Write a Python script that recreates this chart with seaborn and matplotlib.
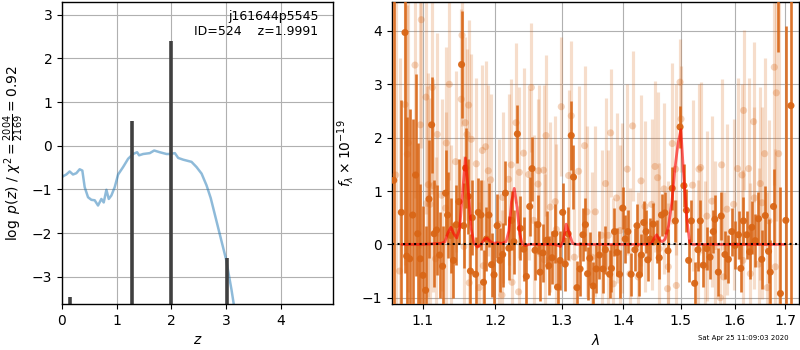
import matplotlib
matplotlib.use("Agg")
import matplotlib.pyplot as plt
from matplotlib.ticker import FixedLocator, FixedFormatter, NullLocator
import seaborn as sns
import numpy as np
import pandas as pd

# ---------------- left panel: log p(z) ----------------
pz_z = [0.0, 0.018, 0.079, 0.14, 0.201, 0.262, 0.323, 0.372, 0.415, 0.476, 0.537, 0.598,
        0.659, 0.72, 0.763, 0.812, 0.855, 0.903, 0.964, 1.026, 1.117, 1.209, 1.30, 1.374,
        1.41, 1.484, 1.606, 1.686, 1.789, 1.911, 1.972, 2.064, 2.125, 2.216, 2.369, 2.461,
        2.553, 2.644, 2.72, 2.80, 2.90, 3.00, 3.10, 3.20, 3.40]
pz_logp = [-0.72, -0.70, -0.66, -0.59, -0.66, -0.63, -0.54, -0.57, -0.95, -1.18, -1.24, -1.25,
           -1.37, -1.22, -1.30, -1.01, -1.22, -1.14, -0.95, -0.66, -0.49, -0.30, -0.19, -0.15,
           -0.22, -0.19, -0.17, -0.11, -0.15, -0.19, -0.19, -0.17, -0.28, -0.32, -0.37, -0.49,
           -0.64, -0.91, -1.20, -1.60, -2.10, -2.60, -3.30, -4.10, -5.50]
peak_z = [0.153, 1.275, 1.990, 3.025]
peak_logp = [-3.46, 0.56, 2.39, -2.58]

# ---------------- right panel: spectrum ----------------
dark_wave = [1.0625, 1.0722, 1.0770, 1.0791, 1.0830, 1.0870, 1.0908, 1.0935, 1.0970, 1.1005,
             1.1040, 1.1085, 1.1120, 1.1153, 1.1186, 1.1228, 1.1267, 1.1308, 1.1335, 1.1376,
             1.1415, 1.1454, 1.1490, 1.1527, 1.1555, 1.1583, 1.1620, 1.1650, 1.1676, 1.1723,
             1.1761, 1.1799, 1.1835, 1.1875, 1.1912, 1.1949, 1.1985, 1.2030, 1.2070, 1.2110,
             1.2150, 1.2200, 1.2240, 1.2275, 1.2326, 1.2370, 1.2420, 1.2460, 1.2510, 1.2545,
             1.2590, 1.2635, 1.2665, 1.2710, 1.2770, 1.2800, 1.2850, 1.2895, 1.2935, 1.2975,
             1.3015, 1.3055, 1.3100, 1.3150, 1.3185, 1.3240, 1.3290, 1.3335, 1.3375, 1.3410,
             1.3445, 1.3500, 1.3550, 1.3600, 1.3660, 1.3700, 1.3770, 1.3800, 1.3850, 1.3895,
             1.3935, 1.3990, 1.4030, 1.4075, 1.4130, 1.4195, 1.4230, 1.4270, 1.4305, 1.4345,
             1.4385, 1.4415, 1.4455, 1.4510, 1.4570, 1.4615, 1.4655, 1.4715, 1.4770, 1.4845,
             1.4900, 1.4985, 1.5055, 1.5100, 1.5140, 1.5190, 1.5250, 1.5310, 1.5354, 1.5410,
             1.5475, 1.5535, 1.5595, 1.5625, 1.5690, 1.5745, 1.5815, 1.5880, 1.5945, 1.6010,
             1.6075, 1.6120, 1.6170, 1.6235, 1.6290, 1.6335, 1.6400, 1.6465, 1.6530, 1.6600,
             1.6665, 1.6700, 1.6765, 1.6860, 1.6905, 1.7015, 1.7120]
dark_flux = [1.20, 0.60, 3.97, -0.22, -0.27, 0.55, 1.30, 0.20, -0.27, -0.58,
             -0.86, 0.85, 2.24, 0.20, 0.27, -0.20, -0.41, 0.96, 0.55, 0.17,
             -0.30, 0.37, 0.80, 3.37, 0.35, 1.43, 0.90, -0.50, 0.50, -0.56,
             0.60, 0.55, -0.71, 0.10, 0.55, -0.38, -0.57, 0.35, -0.30, -0.19,
             0.96, -0.07, 0.45, 0.05, 2.07, 0.30, -0.09, -0.60, 0.71, 1.42,
             -0.11, 0.37, -0.52, -0.16, 0.08, -0.40, -0.25, 0.20, -0.80, -0.30,
             0.60, -0.37, 0.20, 2.04, 1.26, -0.81, -0.46, 0.18, 0.37, -0.55,
             -0.26, -0.78, -0.46, -0.20, -0.46, -0.10, -0.56, -0.45, 0.24, -0.15,
             -0.56, 0.68, 0.10, 0.24, -0.56, -0.10, 0.35, -0.57, -0.20, 0.41,
             0.24, -0.29, 0.10, 0.38, 0.05, -0.25, 0.55, 0.59, -0.12, 1.05,
             0.44, 2.20, 1.10, 0.64, -0.30, 0.44, -0.73, -0.10, 0.44, -0.39,
             -0.08, -0.24, 0.24, 0.47, -0.52, 0.53, -0.19, -0.28, 0.24, -0.02,
             0.18, -0.45, 0.44, 0.18, -0.14, 0.32, 0.07, 0.48, -0.28, 0.54,
             -0.13, -0.52, 0.71, 6.00, -0.92, 0.45, 2.60]
dark_err = [6.0, 2.1, 4.5, 2.6, 2.8, 1.8, 1.9, 1.7, 1.4, 1.3,
            1.2, 1.1, 0.9, 1.0, 0.85, 0.8, 0.75, 0.8, 0.8, 0.7,
            0.7, 0.75, 0.8, 1.0, 0.8, 0.75, 0.7, 0.7, 0.7, 0.7,
            0.65, 0.65, 0.6, 0.6, 0.6, 0.6, 0.6, 0.6, 0.6, 0.6,
            0.6, 0.6, 0.55, 0.6, 0.55, 0.6, 0.6, 0.6, 0.55, 0.6,
            0.55, 0.55, 0.55, 0.55, 0.55, 0.55, 0.5, 0.55, 0.5, 0.55,
            0.55, 0.5, 0.5, 0.65, 0.6, 0.5, 0.5, 0.5, 0.5, 0.5,
            0.5, 0.45, 0.45, 0.45, 0.45, 0.45, 0.45, 0.45, 0.45, 0.45,
            0.45, 0.4, 0.45, 0.4, 0.4, 0.4, 0.4, 0.4, 0.4, 0.4,
            0.4, 0.4, 0.4, 0.4, 0.4, 0.4, 0.4, 0.4, 0.4, 0.4,
            0.4, 0.4, 0.4, 0.4, 0.4, 0.4, 0.4, 0.4, 0.4, 0.4,
            0.4, 0.4, 0.4, 0.45, 0.45, 0.45, 0.45, 0.45, 0.45, 0.45,
            0.45, 0.45, 0.45, 0.45, 0.5, 0.5, 0.5, 0.5, 0.55, 0.55,
            0.6, 0.6, 0.7, 2.4, 2.0, 3.65, 5.0]

light_wave = [1.0650, 1.0700, 1.0770, 1.0800, 1.0813, 1.0900, 1.0970, 1.0983, 1.1045, 1.1053,
              1.1076, 1.1098, 1.1129, 1.1142, 1.1173, 1.1196, 1.1254, 1.1307, 1.1317, 1.1358,
              1.1385, 1.1444, 1.1523, 1.1533, 1.1560, 1.1579, 1.1602, 1.1625, 1.1634, 1.1662,
              1.1733, 1.1771, 1.1818, 1.1832, 1.1865, 1.1903, 1.1936, 1.2051, 1.2100, 1.2109,
              1.2197, 1.2236, 1.2247, 1.2306, 1.2344, 1.2355, 1.2418, 1.2493, 1.2534, 1.2569,
              1.2635, 1.2644, 1.2720, 1.2735, 1.2757, 1.2823, 1.2900, 1.2916, 1.2993, 1.3108,
              1.3150, 1.3198, 1.3266, 1.3362, 1.3401, 1.3481, 1.3535, 1.3638, 1.3703, 1.3748,
              1.3786, 1.3831, 1.3885, 1.3943, 1.3981, 1.4065, 1.4110, 1.4155, 1.4252, 1.4299,
              1.4367, 1.4482, 1.4541, 1.4587, 1.4616, 1.4699, 1.4762, 1.4775, 1.4846, 1.4906,
              1.4918, 1.4985, 1.5003, 1.5212, 1.5318, 1.5330, 1.5360, 1.5445, 1.5476, 1.5570,
              1.5633, 1.5727, 1.5752, 1.5790, 1.5855, 1.5981, 1.6057, 1.6142, 1.6158, 1.6173,
              1.6271, 1.6304, 1.6369, 1.6383, 1.6468, 1.6501, 1.6535, 1.6587, 1.6640, 1.6672,
              1.6781, 1.6802, 1.6822, 1.6868]
light_flux = [1.30, -0.50, 2.62, 1.69, 1.90, 3.36, 2.24, 4.21, 2.76, 0.77,
              1.12, 0.75, 2.94, 1.10, -0.27, 2.06, 0.92, 0.68, 1.90, 3.00,
              0.17, 1.55, 2.72, 3.92, -0.04, 2.28, 2.06, 2.61, -0.72, 1.97,
              1.51, -0.81, 1.76, -0.40, 1.83, 1.38, 1.21, 0.38, -0.95, 0.88,
              1.22, 1.49, -0.71, 2.28, -0.89, 1.35, 1.71, 1.31, 2.94, 0.45,
              1.13, 1.38, 1.39, -0.29, 2.04, 0.70, 0.80, 0.28, 2.58, 1.29,
              2.41, -0.24, 1.37, 1.85, 0.61, -0.24, 0.61, 0.17, 1.14, 0.17,
              2.09, -0.74, 0.87, 0.26, 0.68, 1.41, -0.55, 2.22, -0.61, 1.19,
              0.71, 0.75, 1.46, 1.25, -0.08, 1.04, -0.83, -0.42, 1.89, 1.41,
              -0.77, 3.04, 2.35, 1.11, -0.39, 1.41, 1.44, -0.42, 0.53, 0.81,
              -0.04, -1.00, 1.49, -0.61, 0.66, 0.75, 1.42, 1.30, -0.30, 2.51,
              1.42, -0.55, 2.30, 0.87, -0.37, 1.14, 0.78, 1.70, -0.81, 0.44,
              3.32, -0.42, 2.84, 1.70]
light_err = [5.0, 4.0, 3.0, 2.8, 2.8, 2.5, 2.3, 2.4, 2.2, 2.2,
             2.1, 2.0, 2.0, 2.0, 1.9, 1.9, 1.8, 1.8, 1.8, 1.8,
             1.7, 1.7, 1.7, 1.7, 1.7, 1.6, 1.6, 1.6, 1.6, 1.6,
             1.6, 1.6, 1.6, 1.6, 1.6, 1.6, 1.6, 1.6, 1.6, 1.6,
             1.6, 1.6, 1.6, 1.5, 1.6, 1.6, 1.6, 1.6, 1.2, 1.6,
             1.6, 1.6, 1.6, 1.6, 1.5, 1.6, 1.6, 1.6, 1.3, 1.6,
             1.4, 1.6, 1.6, 1.5, 1.6, 1.6, 1.6, 1.6, 1.6, 1.6,
             1.2, 1.6, 1.6, 1.6, 1.6, 1.6, 1.6, 1.4, 1.6, 1.6,
             1.6, 1.6, 1.6, 1.6, 1.6, 1.6, 1.6, 1.6, 1.5, 1.6,
             1.6, 0.8, 1.0, 1.6, 1.6, 1.6, 1.6, 1.6, 1.6, 1.6,
             1.6, 1.6, 1.6, 1.6, 1.6, 1.6, 1.7, 1.7, 1.7, 1.5,
             1.7, 1.7, 1.5, 1.7, 1.8, 1.8, 1.8, 1.8, 1.8, 1.9,
             2.2, 2.2, 2.4, 3.0]

model_wave = [1.073, 1.100, 1.125, 1.130, 1.134, 1.138, 1.142, 1.146, 1.150, 1.154,
              1.158, 1.162, 1.166, 1.170, 1.175, 1.180, 1.184, 1.188, 1.192, 1.197,
              1.203, 1.210, 1.216, 1.220, 1.224, 1.228, 1.232, 1.236, 1.240, 1.245,
              1.250, 1.290, 1.298, 1.302, 1.307, 1.312, 1.317, 1.322, 1.440, 1.448,
              1.453, 1.457, 1.462, 1.467, 1.472, 1.478, 1.484, 1.489, 1.495, 1.500,
              1.505, 1.511, 1.516, 1.520, 1.700]
model_flux = [0.0, 0.0, 0.02, 0.05, 0.22, 0.32, 0.20, 0.12, 0.30, 0.95,
              1.62, 1.00, 0.30, 0.02, -0.05, 0.0, 0.08, 0.12, 0.07, 0.02,
              0.03, 0.02, 0.05, 0.25, 0.80, 1.05, 0.70, 0.20, 0.0, -0.02,
              0.0, 0.0, -0.04, 0.05, 0.38, 0.20, 0.02, 0.0, 0.0, 0.02,
              0.12, 0.18, 0.08, 0.05, 0.10, 0.35, 0.80, 1.40, 1.90, 2.15,
              1.30, 0.45, 0.03, 0.0, 0.0]

xticks_r = [1.1, 1.2, 1.3, 1.4, 1.5, 1.6, 1.7]

# ---------------- style ----------------
sns.set_theme(style="ticks", rc={
    "axes.edgecolor": "black", "axes.linewidth": 1.0,
    "xtick.color": "black", "ytick.color": "black",
    "axes.labelcolor": "black", "text.color": "black",
    "font.size": 10, "axes.labelsize": 10,
    "xtick.labelsize": 10, "ytick.labelsize": 10,
    "xtick.major.size": 3.5, "ytick.major.size": 3.5,
    "xtick.major.pad": 3.5, "ytick.major.pad": 3.5,
    "xtick.major.width": 0.8, "ytick.major.width": 0.8,
    "axes.labelpad": 4.0,
    "grid.color": "#b0b0b0", "grid.linewidth": 0.8,
})
plt.rcParams["font.family"] = ["DejaVu Sans"]

fig = plt.figure(figsize=(8, 3.5), dpi=100)
ax1 = fig.add_axes([0.0775, 0.131, 0.339, 0.863])
ax2 = fig.add_axes([0.490, 0.131, 0.509, 0.863])

orange = "#d96616"

# left
df_pz = pd.DataFrame({"z": pz_z, "logp": pz_logp})
sns.lineplot(data=df_pz, x="z", y="logp", ax=ax1, color="#1f77b4", alpha=0.5,
             linewidth=1.8, sort=False, estimator=None)
ax1.vlines(peak_z, -10, peak_logp, color="0.25", linewidth=2.6)
ax1.set_xlim(0, 4.96)
ax1.set_ylim(-3.63, 3.29)
ax1.set_xticks([0, 1, 2, 3, 4])
ax1.set_yticks([-3, -2, -1, 0, 1, 2, 3])
ax1.grid(True)
ax1.set_xlabel(r"$z$")
ax1.set_ylabel(r"$\log\ p(z)$ / $\chi^2=\frac{2004}{2169}=0.92$")
ax1.text(0.945, 0.975, "j161644p5545\nID=524    z=1.9991", transform=ax1.transAxes,
         ha="right", va="top", fontsize=9, linespacing=1.2)

# right
ax2.errorbar(light_wave, light_flux, yerr=light_err, fmt="none", ecolor=orange,
             alpha=0.22, elinewidth=2.3, zorder=2)
df_l = pd.DataFrame({"w": light_wave, "f": light_flux})
sns.scatterplot(data=df_l, x="w", y="f", ax=ax2, color=orange, alpha=0.28, s=26,
                edgecolor="none", zorder=3)
ax2.errorbar(dark_wave, dark_flux, yerr=dark_err, fmt="none", ecolor=orange,
             alpha=0.9, elinewidth=1.9, zorder=4)
df_d = pd.DataFrame({"w": dark_wave, "f": dark_flux})
sns.scatterplot(data=df_d, x="w", y="f", ax=ax2, color=orange, alpha=0.95, s=26,
                edgecolor="none", zorder=5)
df_m = pd.DataFrame({"w": model_wave, "f": model_flux})
sns.lineplot(data=df_m, x="w", y="f", ax=ax2, color="red", alpha=0.6, linewidth=2,
             sort=False, estimator=None, zorder=6)
ax2.axhline(0, color="black", linestyle=":", linewidth=1.5, zorder=7)

ax2.set_xscale("log")
ax2.set_xlim(1.0603, 1.729)
ax2.set_ylim(-1.12, 4.54)
ax2.xaxis.set_major_locator(FixedLocator(xticks_r))
ax2.xaxis.set_major_formatter(FixedFormatter([f"{t:.1f}" for t in xticks_r]))
ax2.xaxis.set_minor_locator(NullLocator())
ax2.set_yticks([-1, 0, 1, 2, 3, 4])
ax2.grid(True)
ax2.set_xlabel(r"$\lambda$")
ax2.set_ylabel(r"$f_\lambda\times 10^{-19}$")

fig.text(0.872, 0.025, "Sat Apr 25 11:09:03 2020", fontsize=5, ha="left", va="bottom")

fig.savefig("out.png", dpi=100)
